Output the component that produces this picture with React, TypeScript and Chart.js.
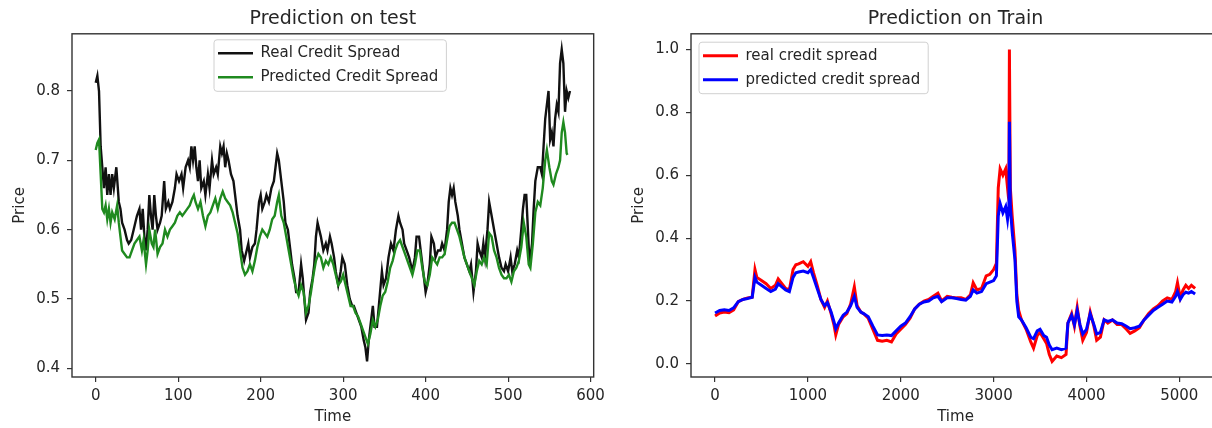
import React, { useEffect, useRef } from "react";
import { Chart, registerables } from "chart.js";

Chart.register(...registerables);

const FONT = "'DejaVu Sans', 'Liberation Sans', sans-serif";
const TEXT = "#262626";

// ---------- Left chart: Prediction on test ----------
const testTitle = "Prediction on test";
const testRealLabel = "Real Credit Spread";
const testPredLabel = "Predicted Credit Spread";
const testXTicks = [0, 100, 200, 300, 400, 500, 600];
const testYTicks = [0.4, 0.5, 0.6, 0.7, 0.8];

const testRealT = [
  0, 2, 4, 6, 8, 10, 12, 14, 16, 18, 20, 22, 25, 28, 30, 32, 35, 38, 40, 43,
  46, 48, 50, 53, 55, 57, 59, 61, 63, 65, 67, 69, 71, 73, 75, 78, 80, 83, 85, 88,
  90, 93, 96, 98, 101, 104, 106, 109, 112, 114, 116, 118, 120, 122, 124, 126, 128, 131, 133, 136,
  138, 141, 143, 146, 148, 151, 153, 155, 157, 159, 161, 164, 167, 170, 172, 175, 177, 180, 183, 185,
  187, 190, 193, 195, 198, 200, 202, 205, 207, 210, 213, 216, 218, 220, 222, 225, 228, 230, 233, 236,
  238, 241, 243, 246, 249, 251, 253, 255, 258, 260, 263, 265, 267, 269, 271, 273, 276, 279, 281, 284,
  286, 289, 291, 294, 297, 299, 302, 305, 308, 311, 313, 316, 319, 322, 325, 327, 329, 331, 333, 336,
  338, 341, 344, 347, 349, 352, 355, 358, 361, 364, 367, 369, 372, 374, 377, 380, 382, 384, 387, 389,
  392, 395, 398, 400, 402, 405, 407, 410, 412, 415, 418, 420, 423, 426, 428, 430, 432, 434, 436, 439,
  441, 444, 447, 450, 453, 455, 458, 461, 463, 465, 468, 470, 472, 475, 477, 480, 483, 486, 489, 492,
  495, 497, 500, 503, 505, 508, 511, 513, 516, 518, 520, 522, 524, 526, 529, 531, 533, 536, 539, 541,
  543, 545, 547, 549, 551, 553, 555, 557, 559, 561, 563, 565, 567, 569, 571, 573, 575,
];
const testRealV = [
  0.812, 0.822, 0.8, 0.72, 0.69, 0.66, 0.69, 0.65, 0.68, 0.65, 0.68, 0.66, 0.69, 0.64, 0.63, 0.61, 0.6, 0.585, 0.58, 0.585,
  0.6, 0.61, 0.62, 0.63, 0.6, 0.63, 0.59, 0.57, 0.6, 0.65, 0.62, 0.6, 0.65, 0.62, 0.6, 0.61, 0.62, 0.67, 0.63, 0.64,
  0.63, 0.64, 0.66, 0.68, 0.67, 0.68, 0.66, 0.69, 0.7, 0.69, 0.72, 0.7, 0.72, 0.69, 0.67, 0.7, 0.66, 0.67, 0.65, 0.68,
  0.66, 0.7, 0.68, 0.69, 0.68, 0.72, 0.71, 0.72, 0.69, 0.71, 0.7, 0.68, 0.67, 0.64, 0.62, 0.6, 0.57, 0.555, 0.57, 0.58,
  0.56, 0.575, 0.58, 0.6, 0.64, 0.65, 0.63, 0.64, 0.65, 0.64, 0.66, 0.67, 0.69, 0.71, 0.7, 0.67, 0.64, 0.61, 0.6, 0.57,
  0.55, 0.53, 0.51, 0.51, 0.55, 0.53, 0.5, 0.47, 0.48, 0.51, 0.53, 0.55, 0.59, 0.61, 0.6, 0.59, 0.57, 0.58, 0.57, 0.59,
  0.58, 0.56, 0.54, 0.52, 0.54, 0.56, 0.55, 0.52, 0.5, 0.49, 0.49, 0.48, 0.47, 0.46, 0.44, 0.43, 0.41, 0.44, 0.46, 0.49,
  0.46, 0.46, 0.5, 0.54, 0.52, 0.53, 0.56, 0.58, 0.57, 0.6, 0.62, 0.61, 0.6, 0.58, 0.57, 0.56, 0.55, 0.54, 0.56, 0.59,
  0.59, 0.56, 0.53, 0.51, 0.52, 0.55, 0.59, 0.58, 0.56, 0.57, 0.57, 0.58, 0.57, 0.6, 0.64, 0.66, 0.65, 0.66, 0.64, 0.62,
  0.6, 0.58, 0.56, 0.55, 0.54, 0.55, 0.51, 0.54, 0.58, 0.57, 0.56, 0.58, 0.56, 0.6, 0.64, 0.62, 0.6, 0.58, 0.56, 0.545,
  0.54, 0.55, 0.54, 0.56, 0.54, 0.55, 0.57, 0.56, 0.6, 0.63, 0.65, 0.65, 0.6, 0.55, 0.58, 0.63, 0.67, 0.69, 0.69, 0.68,
  0.72, 0.76, 0.78, 0.8, 0.73, 0.74, 0.72, 0.76, 0.78, 0.77, 0.84, 0.86, 0.84, 0.77, 0.8, 0.79, 0.8,
];

const testPredT = [
  0, 2, 4, 6, 8, 10, 12, 14, 16, 18, 20, 23, 26, 28, 30, 32, 35, 38, 41, 44,
  47, 50, 53, 56, 58, 61, 63, 65, 68, 70, 72, 75, 78, 81, 84, 87, 90, 93, 96, 99,
  102, 105, 108, 111, 114, 117, 119, 121, 124, 127, 130, 133, 136, 139, 142, 145, 148, 151, 154, 157,
  160, 163, 166, 169, 172, 175, 178, 181, 184, 187, 190, 193, 196, 199, 202, 205, 208, 211, 214, 217,
  220, 222, 225, 228, 231, 234, 237, 240, 243, 246, 249, 252, 255, 258, 261, 264, 267, 270, 273, 276,
  279, 282, 285, 288, 291, 294, 297, 300, 303, 306, 309, 312, 315, 318, 321, 324, 327, 330, 333, 336,
  339, 342, 345, 348, 351, 354, 357, 360, 363, 366, 369, 372, 375, 378, 381, 384, 387, 390, 393, 396,
  399, 402, 405, 408, 411, 414, 417, 420, 423, 426, 429, 432, 435, 438, 441, 444, 447, 450, 453, 456,
  459, 462, 465, 468, 471, 474, 477, 480, 483, 486, 489, 492, 495, 498, 501, 504, 507, 510, 513, 516,
  519, 522, 525, 527, 530, 533, 536, 539, 542, 545, 547, 550, 553, 555, 558, 561, 563, 565, 567, 569,
  571, 572,
];
const testPredV = [
  0.715, 0.725, 0.73, 0.68, 0.63, 0.625, 0.635, 0.615, 0.63, 0.61, 0.625, 0.615, 0.635, 0.61, 0.59, 0.57, 0.565, 0.56, 0.56, 0.57,
  0.58, 0.585, 0.59, 0.57, 0.585, 0.55, 0.57, 0.6, 0.58, 0.575, 0.6, 0.565, 0.575, 0.58, 0.6, 0.59, 0.6, 0.605, 0.61, 0.62,
  0.625, 0.62, 0.625, 0.63, 0.635, 0.645, 0.65, 0.64, 0.63, 0.64, 0.62, 0.605, 0.62, 0.625, 0.635, 0.645, 0.63, 0.645, 0.655, 0.645,
  0.64, 0.635, 0.625, 0.61, 0.595, 0.57, 0.545, 0.535, 0.54, 0.55, 0.54, 0.555, 0.575, 0.59, 0.6, 0.595, 0.59, 0.6, 0.615, 0.62,
  0.64, 0.65, 0.62, 0.61, 0.59, 0.57, 0.55, 0.53, 0.515, 0.505, 0.52, 0.51, 0.48, 0.49, 0.51, 0.535, 0.555, 0.565, 0.56, 0.545,
  0.555, 0.55, 0.56, 0.55, 0.535, 0.52, 0.525, 0.535, 0.52, 0.505, 0.49, 0.49, 0.48, 0.475, 0.465, 0.455, 0.445, 0.435, 0.45, 0.47,
  0.46, 0.47, 0.49, 0.505, 0.51, 0.525, 0.545, 0.555, 0.57, 0.58, 0.585, 0.575, 0.565, 0.555, 0.545, 0.535, 0.55, 0.57, 0.57, 0.545,
  0.525, 0.52, 0.535, 0.56, 0.555, 0.55, 0.56, 0.56, 0.565, 0.585, 0.605, 0.61, 0.61, 0.6, 0.59, 0.575, 0.56, 0.55, 0.54, 0.53,
  0.52, 0.54, 0.555, 0.55, 0.56, 0.55, 0.595, 0.59, 0.57, 0.56, 0.545, 0.535, 0.53, 0.53, 0.535, 0.525, 0.54, 0.545, 0.555, 0.575,
  0.61, 0.59, 0.55, 0.545, 0.58, 0.625, 0.64, 0.635, 0.66, 0.7, 0.715, 0.69, 0.67, 0.665, 0.68, 0.69, 0.7, 0.74, 0.755, 0.74,
  0.71, 0.708,
];

// ---------- Right chart: Prediction on Train ----------
const trainTitle = "Prediction on Train";
const trainRealLabel = "real credit spread";
const trainPredLabel = "predicted credit spread";
const trainXTicks = [0, 1000, 2000, 3000, 4000, 5000];
const trainYTicks = [0.0, 0.2, 0.4, 0.6, 0.8, 1.0];

const trainT = [
  0, 50, 100, 150, 200, 250, 300, 350, 400, 430,
  450, 500, 550, 600, 650, 680, 720, 760, 800, 840,
  870, 900, 950, 1000, 1030, 1060, 1100, 1140, 1180, 1210,
  1250, 1280, 1300, 1330, 1380, 1420, 1460, 1500, 1530, 1570,
  1600, 1650, 1700, 1750, 1800, 1850, 1900, 1950, 2000, 2050,
  2100, 2150, 2200, 2250, 2300, 2350, 2400, 2440, 2500, 2550,
  2600, 2650, 2700, 2750, 2780, 2820, 2870, 2920, 2960, 3000,
  3030, 3050, 3070, 3100, 3130, 3150, 3165, 3170, 3180, 3200,
  3230, 3250, 3270, 3300, 3350, 3400, 3430, 3470, 3500, 3540,
  3570, 3600, 3630, 3680, 3730, 3780, 3800, 3840, 3870, 3900,
  3930, 3960, 4000, 4040, 4080, 4110, 4150, 4190, 4230, 4280,
  4330, 4380, 4430, 4470, 4520, 4570, 4620, 4670, 4720, 4770,
  4820, 4870, 4920, 4960, 4980, 5010, 5040, 5070, 5100, 5130,
  5170,
];
const trainReal = [
  0.152, 0.162, 0.165, 0.163, 0.172, 0.198, 0.205, 0.21, 0.212, 0.3,
  0.275, 0.265, 0.255, 0.24, 0.25, 0.27, 0.255, 0.24, 0.235, 0.3,
  0.315, 0.318, 0.325, 0.31, 0.325, 0.29, 0.25, 0.205, 0.18, 0.2,
  0.16, 0.125, 0.092, 0.125, 0.15, 0.16, 0.19, 0.245, 0.185, 0.165,
  0.16, 0.145, 0.11, 0.075, 0.072, 0.075, 0.07, 0.095, 0.11, 0.125,
  0.145, 0.175, 0.19, 0.2, 0.205, 0.215, 0.225, 0.2, 0.215, 0.212,
  0.21, 0.21, 0.205, 0.22, 0.258, 0.235, 0.24, 0.28, 0.285, 0.3,
  0.32, 0.56, 0.62, 0.6, 0.62, 0.56, 0.6, 1.0, 0.56, 0.47,
  0.36, 0.22, 0.17, 0.14, 0.11, 0.07, 0.05, 0.09, 0.1, 0.08,
  0.065, 0.03, 0.008, 0.025, 0.02, 0.03, 0.13, 0.16, 0.12, 0.18,
  0.12, 0.075, 0.1, 0.165, 0.12, 0.075, 0.085, 0.14, 0.13, 0.14,
  0.125, 0.125, 0.11, 0.097, 0.105, 0.115, 0.14, 0.16, 0.175, 0.185,
  0.2, 0.21, 0.205, 0.23, 0.258, 0.21, 0.235, 0.25, 0.24, 0.25,
  0.24,
];
const trainPred = [
  0.162, 0.17, 0.172, 0.17, 0.178, 0.198, 0.205, 0.208, 0.212, 0.275,
  0.26, 0.25, 0.24, 0.23, 0.238, 0.255, 0.245, 0.235, 0.23, 0.275,
  0.29, 0.292, 0.295, 0.29, 0.3, 0.275, 0.24, 0.205, 0.185, 0.195,
  0.165, 0.135, 0.112, 0.13, 0.155, 0.165, 0.185, 0.215, 0.18, 0.165,
  0.16, 0.15, 0.12, 0.092, 0.09, 0.092, 0.09, 0.105, 0.12, 0.13,
  0.15, 0.175, 0.19, 0.197, 0.2, 0.21, 0.215, 0.198, 0.21, 0.21,
  0.208, 0.205, 0.203, 0.215, 0.235, 0.225, 0.23, 0.255, 0.26, 0.265,
  0.28, 0.47, 0.51, 0.48, 0.5, 0.46, 0.5, 0.77, 0.5, 0.42,
  0.33, 0.2, 0.15, 0.14, 0.115, 0.085, 0.08, 0.105, 0.11, 0.09,
  0.085, 0.06, 0.045, 0.05, 0.045, 0.05, 0.13, 0.155, 0.125, 0.17,
  0.125, 0.095, 0.11, 0.16, 0.125, 0.095, 0.1, 0.14, 0.135, 0.14,
  0.13, 0.128, 0.12, 0.112, 0.115, 0.12, 0.14, 0.155, 0.17, 0.18,
  0.19, 0.2, 0.197, 0.215, 0.23, 0.205, 0.22, 0.228, 0.225, 0.23,
  0.222,
];

function pairs(t: number[], v: number[]) {
  return t.map((x, i) => ({ x, y: v[i] }));
}

function dataRange(values: number[][]) {
  const all = values.flat();
  const lo = Math.min(...all);
  const hi = Math.max(...all);
  const m = (hi - lo) * 0.05;
  return { min: lo - m, max: hi + m };
}

const framePlugin: any = {
  id: "mplFrame",
  afterLayout(chart: any, _args: any, opts: any) {
    const lg = chart.legend;
    if (!lg || opts.legendX == null) return;
    lg.left = opts.legendX;
    lg.top = opts.legendY;
    lg.right = chart.chartArea.right;
    lg.bottom = chart.chartArea.bottom;
  },
  beforeDraw(chart: any) {
    const lg = chart.legend;
    const hb = lg && lg.legendHitBoxes;
    if (!hb || !hb.length) return;
    const ctx = chart.ctx;
    const left = Math.min(...hb.map((h: any) => h.left)) - 4;
    const right = Math.max(...hb.map((h: any) => h.left + h.width)) + 8;
    const top = hb[0].top + hb[0].height / 2 - 13.5;
    const last = hb[hb.length - 1];
    const bottom = last.top + last.height / 2 + 14;
    ctx.save();
    ctx.beginPath();
    if (ctx.roundRect) ctx.roundRect(left, top, right - left, bottom - top, 3);
    else ctx.rect(left, top, right - left, bottom - top);
    ctx.fillStyle = "rgba(255,255,255,0.85)";
    ctx.fill();
    ctx.strokeStyle = "#d0d0d0";
    ctx.lineWidth = 1;
    ctx.stroke();
    ctx.restore();
  },
  afterDraw(chart: any) {
    const { left, top, right, bottom } = chart.chartArea;
    const ctx = chart.ctx;
    ctx.save();
    ctx.strokeStyle = "#333333";
    ctx.lineWidth = 1.4;
    ctx.strokeRect(left, top, right - left, bottom - top);
    ctx.restore();
  },
};

type Cfg = {
  title: string;
  datasets: any[];
  xTicks: number[];
  yTicks: number[];
  xRange: { min: number; max: number };
  yRange: { min: number; max: number };
  yAxisWidth: number;
  yTitlePad: number;
  rightPad: number;
  legendX: number;
  legendY: number;
};

function makeConfig(c: Cfg): any {
  const tickFont = { family: FONT, size: 15 };
  return {
    type: "line",
    data: { datasets: c.datasets },
    plugins: [framePlugin],
    options: {
      responsive: false,
      animation: false,
      events: [],
      devicePixelRatio: 1,
      layout: { autoPadding: false, padding: { left: 0, right: c.rightPad, top: 1, bottom: 0 } },
      plugins: {
        mplFrame: { legendX: c.legendX, legendY: c.legendY },
        tooltip: { enabled: false },
        title: {
          display: true,
          text: c.title,
          fullSize: false,
          color: TEXT,
          font: { family: FONT, size: 19, weight: "normal" },
          padding: { top: 7, bottom: 3 },
        },
        legend: {
          display: true,
          position: "chartArea",
          align: "start",
          labels: {
            color: TEXT,
            font: { family: FONT, size: 15 },
            usePointStyle: true,
            pointStyle: "line",
            pointStyleWidth: 35,
            padding: 9,
            sort: (a: any, b: any) => a.datasetIndex - b.datasetIndex,
          },
        },
      },
      scales: {
        x: {
          type: "linear",
          min: c.xRange.min,
          max: c.xRange.max,
          afterBuildTicks: (s: any) => {
            s.ticks = c.xTicks.map((v) => ({ value: v }));
          },
          afterFit: (s: any) => {
            s.height = 51;
          },
          grid: { drawOnChartArea: false, drawTicks: true, tickLength: 5, color: "#333333", lineWidth: 1.2 },
          border: { display: false },
          ticks: { color: TEXT, font: tickFont, padding: 5, maxRotation: 0, callback: (v: any) => String(v) },
          title: { display: true, text: "Time", color: TEXT, font: tickFont, padding: { top: 0, bottom: 2 } },
        },
        y: {
          type: "linear",
          min: c.yRange.min,
          max: c.yRange.max,
          afterBuildTicks: (s: any) => {
            s.ticks = c.yTicks.map((v) => ({ value: v }));
          },
          afterFit: (s: any) => {
            s.width = c.yAxisWidth;
          },
          grid: { drawOnChartArea: false, drawTicks: true, tickLength: 5, color: "#333333", lineWidth: 1.2 },
          border: { display: false },
          ticks: { color: TEXT, font: tickFont, padding: 7, callback: (v: any) => Number(v).toFixed(1) },
          title: { display: true, text: "Price", color: TEXT, font: tickFont, padding: { top: c.yTitlePad, bottom: 0 } },
        },
      },
    },
  };
}

function ChartCanvas({ config, width, height, left }: { config: any; width: number; height: number; left: number }) {
  const ref = useRef<HTMLCanvasElement | null>(null);
  useEffect(() => {
    if (!ref.current) return;
    const chart = new Chart(ref.current, config);
    return () => chart.destroy();
  }, []);
  return (
    <canvas
      ref={ref}
      width={width}
      height={height}
      style={{ position: "absolute", left, top: 0, width, height }}
    />
  );
}

export default function App() {
  const testCfg = makeConfig({
    title: testTitle,
    datasets: [
      {
        label: testRealLabel,
        data: pairs(testRealT, testRealV),
        borderColor: "#111111",
        backgroundColor: "#111111",
        borderWidth: 2.4,
        pointRadius: 0,
        tension: 0,
        pointStyle: "line",
        order: 1,
      },
      {
        label: testPredLabel,
        data: pairs(testPredT, testPredV),
        borderColor: "#1f8a1f",
        backgroundColor: "#1f8a1f",
        borderWidth: 2.4,
        pointRadius: 0,
        tension: 0,
        pointStyle: "line",
        order: 0,
      },
    ],
    xTicks: testXTicks,
    yTicks: testYTicks,
    xRange: dataRange([testRealT, testPredT]),
    yRange: dataRange([testRealV, testPredV]),
    yAxisWidth: 72,
    yTitlePad: 11,
    rightPad: 9,
    legendX: 209,
    legendY: 36.8,
  });

  const trainCfg = makeConfig({
    title: trainTitle,
    datasets: [
      {
        label: trainRealLabel,
        data: pairs(trainT, trainReal),
        borderColor: "#ff0000",
        backgroundColor: "#ff0000",
        borderWidth: 3,
        pointRadius: 0,
        tension: 0,
        pointStyle: "line",
        order: 1,
      },
      {
        label: trainPredLabel,
        data: pairs(trainT, trainPred),
        borderColor: "#0000ff",
        backgroundColor: "#0000ff",
        borderWidth: 3,
        pointRadius: 0,
        tension: 0,
        pointStyle: "line",
        order: 0,
      },
    ],
    xTicks: trainXTicks,
    yTicks: trainYTicks,
    xRange: { min: -259, max: 5438 },
    yRange: dataRange([trainReal, trainPred]),
    yAxisWidth: 81,
    yTitlePad: 20,
    rightPad: 15,
    legendX: 84,
    legendY: 39.2,
  });

  return (
    <div style={{ position: "absolute", left: 0, top: 0, width: 1212, height: 428, overflow: "hidden", background: "#ffffff" }}>
      <ChartCanvas config={testCfg} width={610} height={428} left={0} />
      <ChartCanvas config={trainCfg} width={625} height={428} left={610} />
    </div>
  );
}
